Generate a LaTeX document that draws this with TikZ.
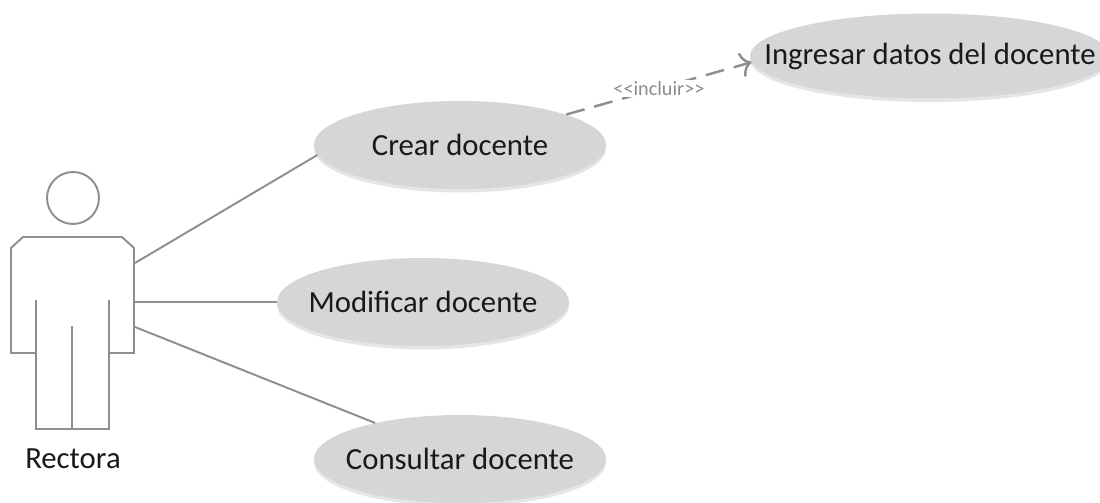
\documentclass[tikz,border=0pt]{standalone}
\usepackage{fontspec}
\setmainfont{Carlito}
\usetikzlibrary{shapes.geometric,shadows,arrows.meta}
\definecolor{linegray}{HTML}{8E8E8E}
\definecolor{casegray}{HTML}{D6D6D6}
\tikzset{
	usecase/.style={ellipse,fill=casegray,inner sep=0pt,inner xsep=-0.8cm,minimum width=5.84cm,minimum height=1.76cm,font=\fontsize{17.5pt}{20pt}\selectfont,text=black!90,
		drop shadow={shadow xshift=0pt,shadow yshift=-0.07cm,fill=black!10,opacity=1}},
	actorline/.style={draw=linegray,line width=1.1pt},
	assoc/.style={draw=linegray,line width=1.1pt},
	include/.style={draw=linegray,line width=1.4pt,dash pattern=on 0.38cm off 0.2cm,-{To[length=0.22cm,width=0.5cm]}}
}
\begin{document}
\begin{tikzpicture}[x=0.02cm,y=-0.02cm]
	\useasboundingbox (0,0) rectangle (1100,503);
	\node[usecase] (crear) at (460,145) {Crear docente};
	\node[usecase] (modificar) at (423,302) {Modificar docente};
	\node[usecase] (consultar) at (460,459) {Consultar docente};
	\node[usecase,minimum width=7.2cm,minimum height=1.7cm] (ingresar) at (930,56) {Ingresar datos del docente};
	\node[circle,actorline,fill=white,minimum size=1.04cm,inner sep=0pt] (head) at (73,198) {};
	\node[font=\fontsize{17.5pt}{20pt}\selectfont,text=black!90] (rectora) at (73,459) {Rectora};
	\coordinate (a1) at (135,263);
	\coordinate (a2) at (135,302);
	\coordinate (a3) at (135,327);
	\draw[actorline] (36,353)--(11,353)--(11,248)--(23,237)--(122,237)--(134,248)--(134,353)--(109,353);
	\draw[actorline] (36,300)--(36,429)--(109,429)--(109,300);
	\draw[actorline] (72,326)--(72,429);
	\draw[assoc] (a1)--(crear.184);
	\draw[assoc] (a2)--(modificar.west);
	\draw[assoc] (a3)--(consultar.157);
	\draw[include] (crear.16)--(ingresar.182) node[pos=0.5,fill=white,inner sep=1pt,text=black!45,font=\fontsize{11.5pt}{13pt}\selectfont] (incluir) {<{}<incluir>{}>};
\end{tikzpicture}
\end{document}
